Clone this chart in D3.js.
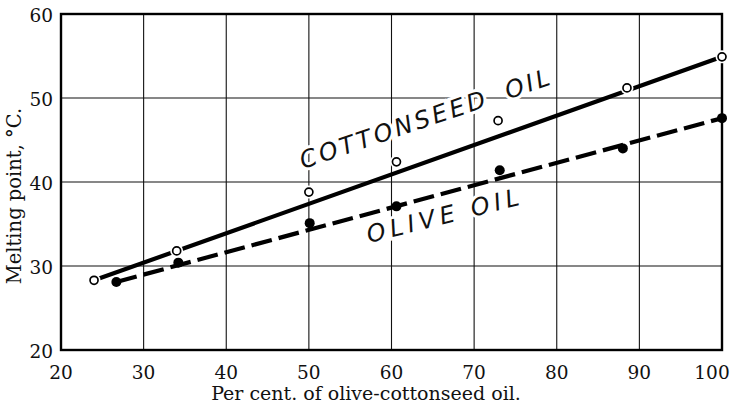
<!DOCTYPE html>
<html>
<head>
<meta charset="utf-8">
<script src="https://cdn.jsdelivr.net/npm/d3@7"></script>
<style>
  html, body { margin: 0; padding: 0; background: #fff; }
  svg { display: block; }
</style>
</head>
<body>
<svg id="chart" width="734" height="406"></svg>
<script>
// ---- data ----
const xTicks = [20, 30, 40, 50, 60, 70, 80, 90, 100];
const yTicks = [20, 30, 40, 50, 60];

const cottonseedX = [24.0, 34.0, 50.0, 60.6, 72.9, 88.5, 100.0];
const cottonseedY = [28.3, 31.8, 38.8, 42.4, 47.3, 51.2, 54.9];
const cottonseedFitX = [24.0, 100.0];
const cottonseedFitY = [28.3, 54.9];

const oliveX = [26.7, 34.2, 50.1, 60.6, 73.1, 88.0, 100.0];
const oliveY = [28.1, 30.4, 35.1, 37.1, 41.4, 44.0, 47.6];
const oliveFitX = [26.7, 100.0];
const oliveFitY = [28.1, 47.6];

const xTitle = "Per cent. of olive-cottonseed oil.";
const yTitle = "Melting point, °C.";
const cottonLabel = "COTTONSEED OIL";
const oliveLabel = "OLIVE OIL";

// ---- layout ----
const svg = d3.select("#chart");
const L = 61, R = 722, T = 14, B = 350;
const x = d3.scaleLinear().domain([20, 100]).range([L, R]);
const y = d3.scaleLinear().domain([20, 60]).range([B, T]);

// grid
const grid = svg.append("g").attr("stroke", "#111").attr("stroke-width", 1.1);
grid.selectAll("line.v").data(xTicks.slice(1, -1)).join("line")
  .attr("x1", d => x(d)).attr("x2", d => x(d)).attr("y1", T).attr("y2", B);
grid.selectAll("line.h").data(yTicks.slice(1, -1)).join("line")
  .attr("y1", d => y(d)).attr("y2", d => y(d)).attr("x1", L).attr("x2", R);

// labels along the lines (with white halo to break grid)
function lineAngle(fx, fy) {
  const dx = x(fx[1]) - x(fx[0]), dy = y(fy[1]) - y(fy[0]);
  return Math.atan2(dy, dx) * 180 / Math.PI;
}
const labelStyle = sel => sel
  .attr("font-family", "DejaVu Sans, sans-serif")
  .attr("font-style", "oblique")
  .attr("font-size", 24)
  .attr("fill", "#111")
  .attr("stroke", "#fff").attr("stroke-width", 6)
  .attr("paint-order", "stroke");

const aC = lineAngle(cottonseedFitX, cottonseedFitY) + 0.8;
svg.append("text").call(labelStyle)
  .attr("letter-spacing", 3.2)
  .attr("word-spacing", 8)
  .attr("transform", `translate(303,169) rotate(${aC})`)
  .text(cottonLabel);

const aO = lineAngle(oliveFitX, oliveFitY) + 1;
svg.append("text").call(labelStyle)
  .attr("letter-spacing", 4.8)
  .attr("transform", `translate(369,243) rotate(${aO})`)
  .text(oliveLabel);

// fitted lines
const line = d3.line().x(d => x(d[0])).y(d => y(d[1]));
svg.append("path")
  .datum(d3.zip(cottonseedFitX, cottonseedFitY))
  .attr("d", line).attr("fill", "none")
  .attr("stroke", "#000").attr("stroke-width", 4.2).attr("stroke-linecap", "round");

svg.append("path")
  .datum(d3.zip(oliveFitX, oliveFitY))
  .attr("d", line).attr("fill", "none")
  .attr("stroke", "#000").attr("stroke-width", 4.2)
  .attr("stroke-dasharray", "21,7");

// frame
svg.append("rect").attr("x", L).attr("y", T).attr("width", R - L).attr("height", B - T)
  .attr("fill", "none").attr("stroke", "#000").attr("stroke-width", 2.4);

// points
const cotton = d3.zip(cottonseedX, cottonseedY);
svg.append("g").selectAll("circle").data(cotton).join("circle")
  .attr("cx", d => x(d[0])).attr("cy", d => y(d[1])).attr("r", 6.5)
  .attr("fill", "#fff");
svg.append("g").selectAll("circle").data(cotton).join("circle")
  .attr("cx", d => x(d[0])).attr("cy", d => y(d[1])).attr("r", 4)
  .attr("fill", "#fff").attr("stroke", "#000").attr("stroke-width", 1.7);

const olive = d3.zip(oliveX, oliveY);
svg.append("g").selectAll("circle").data(olive).join("circle")
  .attr("cx", d => x(d[0])).attr("cy", d => y(d[1])).attr("r", 5)
  .attr("fill", "#000");

// tick labels
const serif = "DejaVu Serif, serif";
svg.append("g").selectAll("text").data(xTicks).join("text")
  .attr("x", d => Math.min(x(d), 712)).attr("y", 379)
  .attr("text-anchor", "middle")
  .attr("font-family", serif).attr("font-size", 18.5).attr("fill", "#111")
  .text(d => d);
svg.append("g").selectAll("text").data(yTicks).join("text")
  .attr("x", 53).attr("y", d => y(d) + 8)
  .attr("text-anchor", "end")
  .attr("font-family", serif).attr("font-size", 18.5).attr("fill", "#111")
  .text(d => d);

// axis titles
svg.append("text")
  .attr("x", 366).attr("y", 400)
  .attr("text-anchor", "middle")
  .attr("font-family", serif).attr("font-size", 19).attr("fill", "#111")
  .text(xTitle);
svg.append("text")
  .attr("transform", "translate(21,196) rotate(-90)")
  .attr("text-anchor", "middle")
  .attr("font-family", serif).attr("font-size", 19.5).attr("fill", "#111")
  .text(yTitle);
</script>
</body>
</html>
